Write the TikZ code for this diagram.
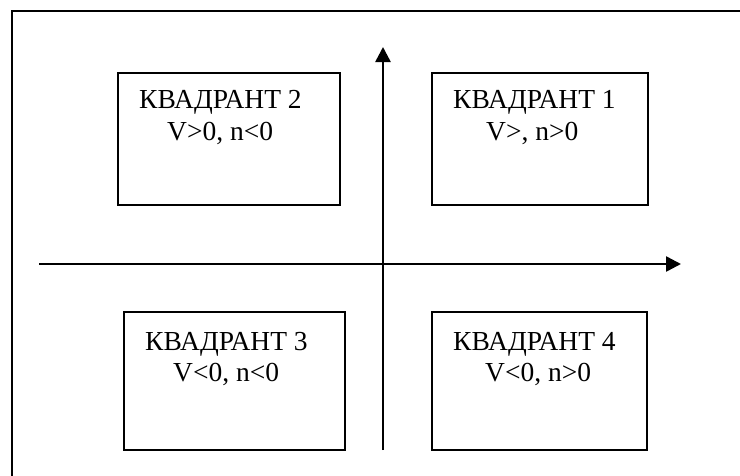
\documentclass[tikz,border=0pt]{standalone}
\usepackage{fontspec}
\setmainfont{Liberation Serif}
\usetikzlibrary{arrows.meta}
\tikzset{
  qbox/.style={draw, line width=1.7pt, inner sep=0pt},
  qtext/.style={anchor=base west, inner sep=0pt, font=\fontsize{27.5}{32}\selectfont},
  axis/.style={line width=2.5pt, -{Triangle[length=15pt,width=15pt]}},
}
\begin{document}
\begin{tikzpicture}[x=1pt,y=-1pt]
\useasboundingbox (0,0) rectangle (740,475);
\clip (0,0) rectangle (740,475);
\fill[white] (0,0) rectangle (740,475);
% outer frame (right and bottom edges lie outside the picture)
\draw[line width=2.2pt] (12,11) rectangle (760,500);
% boxes
\node[qbox, minimum width=222pt, minimum height=132pt] (q2) at (229,139) {};
\node[qbox, minimum width=216pt, minimum height=132pt] (q1) at (540,139) {};
\node[qbox, minimum width=221pt, minimum height=138pt] (q3) at (234.5,381) {};
\node[qbox, minimum width=215pt, minimum height=138pt] (q4) at (539.5,381) {};
% texts
\node[qtext] (t2a) at (139,108) {КВАДРАНТ 2};
\node[qtext] (t2b) at (167,140) {V>0, n<0};
\node[qtext] (t1a) at (453,108) {КВАДРАНТ 1};
\node[qtext] (t1b) at (486,140) {V>, n>0};
\node[qtext] (t3a) at (145,350) {КВАДРАНТ 3};
\node[qtext] (t3b) at (173,381) {V<0, n<0};
\node[qtext] (t4a) at (453,350) {КВАДРАНТ 4};
\node[qtext] (t4b) at (485,381) {V<0, n>0};
% axes
\coordinate (vs) at (383,450);
\coordinate (ve) at (383,47);
\coordinate (hs) at (39,264);
\coordinate (he) at (681,264);
\draw[axis] (vs) -- (ve);
\draw[axis] (hs) -- (he);
\end{tikzpicture}
\end{document}
